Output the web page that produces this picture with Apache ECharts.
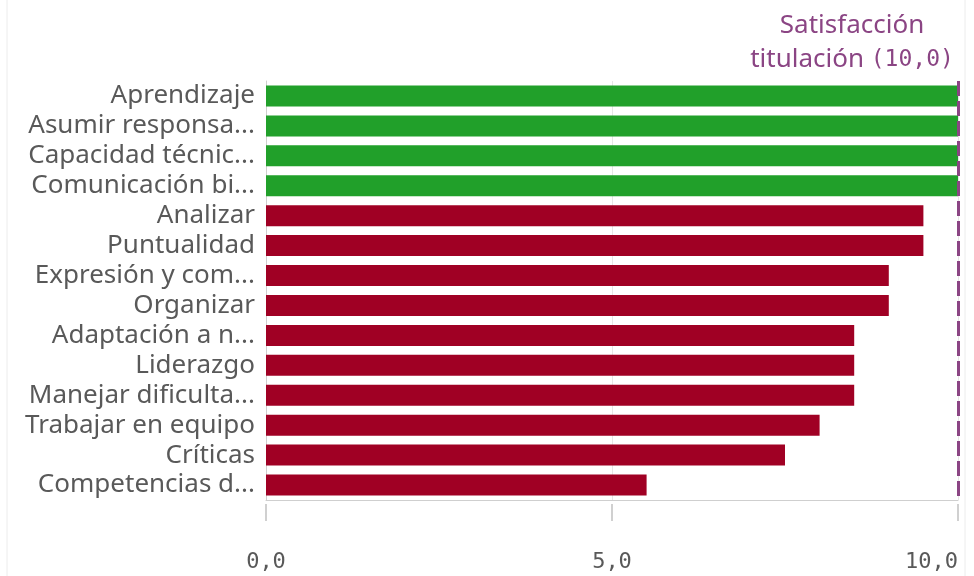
<!DOCTYPE html>
<html>
<head>
<meta charset="utf-8">
<script src="https://cdn.jsdelivr.net/npm/echarts@6/dist/echarts.min.js"></script>
<style>html,body{margin:0;padding:0;background:#fff}#c{width:974px;height:576px}</style>
</head>
<body>
<div id="c"></div>
<script>
const categories = ["Aprendizaje","Asumir responsa...","Capacidad técnic...","Comunicación bi...","Analizar","Puntualidad","Expresión y com...","Organizar","Adaptación a n...","Liderazgo","Manejar dificulta...","Trabajar en equipo","Críticas","Competencias d..."];
const values = [10, 10, 10, 10, 9.5, 9.5, 9.0, 9.0, 8.5, 8.5, 8.5, 8.0, 7.5, 5.5];
const reference = 10.0;
const xTicks = [0, 5, 10];

const chart = echarts.init(document.getElementById('c'));
const fmt = v => v.toFixed(1).replace('.', ',');
chart.setOption({
  animation: false,
  grid: {left: 266, right: 16, top: 81, bottom: 76, containLabel: false, outerBoundsMode: 'none'},
  xAxis: [{
    type: 'value', min: 0, max: 10, interval: 5, position: 'bottom',
    axisLine: {show: true, lineStyle: {color: '#cfcfcf', width: 1}},
    axisTick: {show: false},
    axisLabel: {show: false},
    splitLine: {show: true, lineStyle: {color: '#e6e6e6', width: 1}}
  }, {
    type: 'value', min: 0, max: 10, interval: 5, position: 'bottom', offset: 4,
    axisLine: {show: false},
    axisTick: {show: true, length: 17, lineStyle: {color: '#d0d0d0', width: 2}},
    axisLabel: {show: true, margin: 47, color: '#595959', fontSize: 22, fontFamily: 'DejaVu Sans Mono',
      alignMaxLabel: 'right',
      formatter: v => xTicks.includes(v) ? fmt(v) : ''},
    splitLine: {show: false}
  }],
  yAxis: {
    type: 'category', data: categories, inverse: true,
    axisLine: {show: true, lineStyle: {color: '#cfcfcf', width: 1}},
    axisTick: {show: false},
    axisLabel: {color: '#595959', fontSize: 26, fontFamily: 'Noto Sans', margin: 11, interval: 0, hideOverlap: false}
  },
  series: [{
    type: 'bar', xAxisIndex: 0, barWidth: 21,
    data: values.map(v => ({value: v, itemStyle: {color: v >= reference ? '#21a02a' : '#a00024'}})),
    markLine: {
      silent: true, symbol: 'none',
      lineStyle: {color: '#8b4584', width: 3, type: [15, 5]},
      label: {show: false},
      data: [{xAxis: reference}]
    }
  }],
  graphic: [
    {type: 'line', shape: {x1: 7, y1: 0, x2: 7, y2: 576}, style: {stroke: '#ececec', lineWidth: 1}},
    {type: 'line', shape: {x1: 965, y1: 0, x2: 965, y2: 576}, style: {stroke: '#ececec', lineWidth: 1}},
    {type: 'text', x: 852, y: 9, style: {
      text: 'Satisfacción\ntitulación {m|(10,0)}', fill: '#8b4584', font: '26px "Noto Sans"', align: 'center', lineHeight: 34,
      rich: {m: {fontFamily: 'DejaVu Sans Mono', fontSize: 23, fill: '#8b4584'}}
    }}
  ]
});
</script>
</body>
</html>
